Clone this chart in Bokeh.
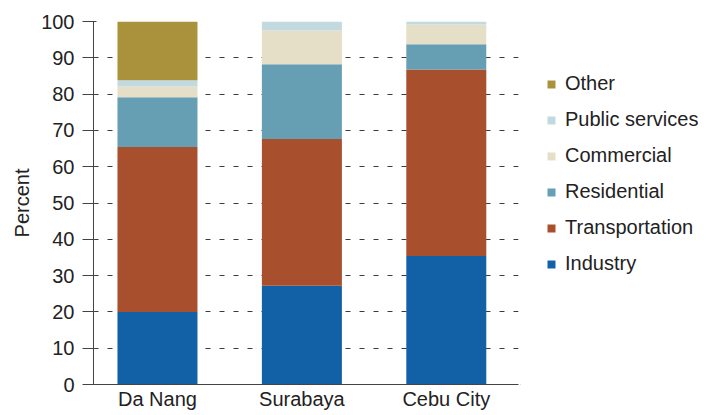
from bokeh.plotting import figure
from bokeh.layouts import row
from bokeh.models import ColumnDataSource, FixedTicker, Legend, LegendItem, Range1d
from bokeh.embed import file_html
from bokeh.resources import INLINE

cities = ["Da Nang", "Surabaya", "Cebu City"]
positions = [1, 2, 3]
sectors = ["Industry", "Transportation", "Residential", "Commercial", "Public services", "Other"]
industry = [20.0, 27.2, 35.4]
transportation = [45.4, 40.4, 51.4]
residential = [13.7, 20.6, 6.9]
commercial = [3.0, 9.3, 5.5]
public_services = [1.7, 2.5, 0.8]
other = [16.2, 0.0, 0.0]
colors = ["#1261a6", "#a84f2d", "#669fb4", "#e5dfc7", "#c3d9e0", "#aa923c"]
yticks = list(range(0, 101, 10))

FONT = "Liberation Sans"
FS = "20px"
TXT = "#222222"
H = 412

src = ColumnDataSource(dict(
    x=positions,
    Industry=industry,
    Transportation=transportation,
    Residential=residential,
    Commercial=commercial,
    **{"Public services": public_services},
    Other=other,
))

p = figure(width=520, height=H, output_backend="svg", toolbar_location=None,
           x_range=Range1d(0.557, 3.5), y_range=Range1d(0, 100),
           min_border_left=93, min_border_top=21, min_border_right=2, min_border_bottom=0)
p.outline_line_color = None
p.background_fill_color = "white"

renderers = p.vbar_stack(sectors, x="x", width=0.554, source=src, color=colors, line_color=None)

p.xgrid.grid_line_color = None
p.ygrid.ticker = FixedTicker(ticks=yticks)
p.ygrid.grid_line_color = "#3a3a3a"
p.ygrid.grid_line_dash = "5 9"
p.ygrid.grid_line_width = 1
p.ygrid.level = "underlay"

ya = p.yaxis[0]
ya.ticker = FixedTicker(ticks=yticks)
ya.axis_label = "Percent"
ya.axis_label_text_font = FONT
ya.axis_label_text_font_size = FS
ya.axis_label_text_font_style = "normal"
ya.axis_label_text_color = TXT
ya.axis_label_standoff = 5
ya.major_label_text_font = FONT
ya.major_label_text_font_size = FS
ya.major_label_text_color = TXT
ya.major_label_standoff = 8
ya.major_tick_out = 11
ya.major_tick_in = 3
ya.minor_tick_out = 0
ya.minor_tick_in = 0
ya.axis_line_color = "#444444"
ya.major_tick_line_color = "#444444"

xa = p.xaxis[0]
xa.ticker = FixedTicker(ticks=positions)
xa.major_label_overrides = {pos: name for pos, name in zip(positions, cities)}
xa.major_label_text_font = FONT
xa.major_label_text_font_size = FS
xa.major_label_text_color = TXT
xa.major_label_standoff = 3
xa.major_tick_out = 0
xa.major_tick_in = 0
xa.minor_tick_out = 0
xa.minor_tick_in = 0
xa.axis_line_color = "#444444"

# legend panel (separate canvas so the legend is not clipped by the plot frame)
lp = figure(width=182, height=H, output_backend="svg", toolbar_location=None,
            x_axis_type=None, y_axis_type=None,
            x_range=Range1d(0, 1), y_range=Range1d(0, 1),
            min_border=0)
lp.outline_line_color = None
lp.grid.grid_line_color = None
# key swatches: one-row sources placed outside the (empty) view, used only as legend keys
keys = []
for name, c in zip(sectors, colors):
    r = lp.vbar(x=[-5], top=[-5], bottom=[-6], width=0.1, fill_color=c, line_color=None)
    keys.append(LegendItem(label=name, renderers=[r]))
keys.reverse()
legend = Legend(items=keys, location=(26, 109))
legend.padding = 0
legend.margin = 0
legend.border_line_color = None
legend.background_fill_alpha = 0
legend.glyph_width = 10
legend.glyph_height = 10
legend.label_standoff = 9
legend.label_height = 23
legend.spacing = 13
legend.label_text_font = FONT
legend.label_text_font_size = FS
legend.label_text_color = TXT
lp.add_layout(legend, "center")

layout = row(p, lp, spacing=0)
open("out.html", "w").write(file_html(layout, INLINE))
